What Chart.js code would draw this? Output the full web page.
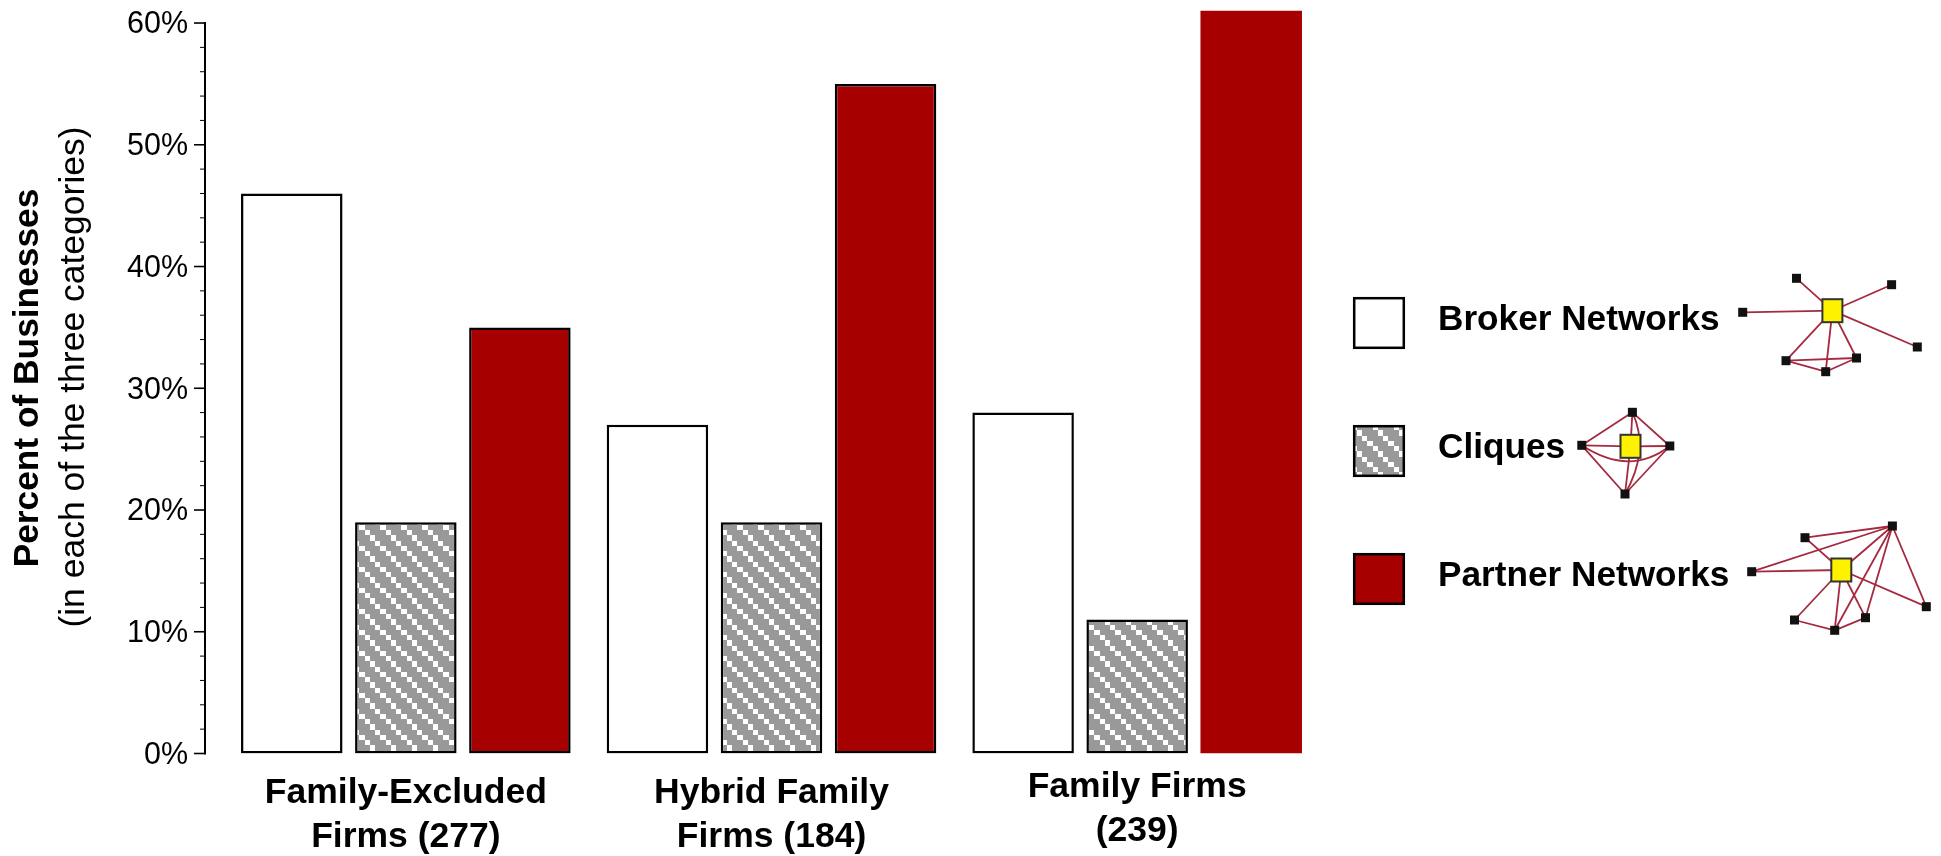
<!DOCTYPE html>
<html><head><meta charset="utf-8">
<style>html,body{margin:0;padding:0;background:#fff}#w{width:1941px;height:856px}</style>
<script src="https://cdn.jsdelivr.net/npm/chart.js@4"></script></head>
<body><div id="w"><canvas id="c" width="1941" height="856"></canvas></div>
<script>
const categories = [['Family-Excluded','Firms (277)'],['Hybrid Family','Firms (184)'],['Family Firms','(239)']];
const seriesNames = ['Broker Networks','Cliques','Partner Networks'];
const brokerValues = [46,27,28];
const cliqueValues = [19,19,11];
const partnerValues = [35,55,61];
const yTitleBold = 'Percent of Businesses';
const yTitleRegular = '(in each of the three categories)';

const FONT = '"Liberation Sans", Arial, sans-serif';
function makePattern(){
  const t=document.createElement('canvas');t.width=21;t.height=21;
  const g=t.getContext('2d');
  g.fillStyle='#999999';g.fillRect(0,0,21,21);
  g.fillStyle='#ffffff';
  // one diagonal stair of four steps per 21px tile
  g.fillRect(2,0,6,5);g.fillRect(8,5,5,5);g.fillRect(13,10,5,6);g.fillRect(18,16,3,5);g.fillRect(0,16,2,5);
  return g.createPattern(t,'repeat');
}
const pattern=makePattern();
const RED='#a60000';

// network glyphs next to the legend (decoration, in page pixels)
const nets=[
 {hub:[1832.4,310.7],nodes:[[1796.5,278.3],[1891.6,284.7],[1742.7,312.3],[1917.3,347],[1786,360.7],[1825.7,371.7],[1856.5,358]],
  links:[[4,6],[4,5],[5,6]],curves:[]},
 {hub:[1630.5,446.3],nodes:[[1632.4,412.3],[1581.8,445.3],[1669.8,446],[1625,494]],
  links:[[0,1],[0,2],[1,3],[2,3]],curves:[[1,2,1630,477],[0,3,1650,450]]},
 {hub:[1841.3,570],nodes:[[1892.4,526],[1805,537.7],[1751.7,571.7],[1926.3,606.7],[1794.5,620],[1834.7,630.3],[1865.5,617.7]],
  links:[[0,1],[0,2],[0,3],[0,5],[0,6],[4,5],[5,6]],curves:[]}
];

const overlay={
 id:'overlay',
 beforeDraw(chart){
  const items=chart.scales.x.getLabelItems();
  if(items[2] && !items[2]._moved){items[2].options.translation[1]-=6;items[2]._moved=true;}
  chart.scales.y.getLabelItems().forEach(it=>{
    if(!it._moved){it.options.translation[1]+=2;it._moved=true;}
  });
 },
 afterDraw(chart){
  const ctx=chart.ctx, y=chart.scales.y;
  ctx.save();
  // y axis line and ticks
  const ax=205;
  ctx.strokeStyle='#000';
  const top=y.getPixelForValue(60), bot=y.getPixelForValue(0);
  ctx.lineWidth=2;ctx.beginPath();ctx.moveTo(ax,top-1);ctx.lineTo(ax,bot+1);ctx.stroke();
  y.ticks.forEach(t=>{
    const p=y.getPixelForValue(t.value), major=t.value%10===0;
    ctx.lineWidth=major?1.6:1;
    ctx.beginPath();ctx.moveTo(ax,p);ctx.lineTo(ax-(major?11:5),p);ctx.stroke();
  });
  // y titles
  ctx.fillStyle='#000';ctx.textAlign='center';ctx.textBaseline='middle';
  ctx.save();ctx.translate(28,378);ctx.rotate(-Math.PI/2);
  ctx.font='bold 35.3px '+FONT;ctx.fillText(yTitleBold,0,0);ctx.restore();
  ctx.save();ctx.translate(74,377);ctx.rotate(-Math.PI/2);
  ctx.font='35.5px '+FONT;ctx.fillText(yTitleRegular,0,0);ctx.restore();
  // legend
  const rows=[297,425,553];
  ctx.textAlign='left';ctx.textBaseline='alphabetic';
  chart.data.datasets.forEach((d,i)=>{
    ctx.fillStyle=d.legendFill;ctx.fillRect(1353,rows[i],52,52);
    ctx.strokeStyle='#000';ctx.lineWidth=2.5;ctx.strokeRect(1354.2,rows[i]+1.2,49.6,49.6);
    ctx.fillStyle='#000';ctx.font='bold 35.2px '+FONT;
    ctx.fillText(d.label,1438,rows[i]+33);
  });
  // networks
  nets.forEach(n=>{
    ctx.strokeStyle='#a52a3f';ctx.lineWidth=1.8;
    n.nodes.forEach(p=>{ctx.beginPath();ctx.moveTo(n.hub[0],n.hub[1]);ctx.lineTo(p[0],p[1]);ctx.stroke();});
    n.links.forEach(l=>{ctx.beginPath();ctx.moveTo(...n.nodes[l[0]]);ctx.lineTo(...n.nodes[l[1]]);ctx.stroke();});
    n.curves.forEach(c=>{ctx.beginPath();ctx.moveTo(...n.nodes[c[0]]);ctx.quadraticCurveTo(c[2],c[3],...n.nodes[c[1]]);ctx.stroke();});
    ctx.fillStyle='#111';
    n.nodes.forEach(p=>ctx.fillRect(p[0]-4.5,p[1]-4.5,9,9));
    ctx.fillStyle='#fff200';ctx.fillRect(n.hub[0]-10,n.hub[1]-11.5,20,23);
    ctx.strokeStyle='#333';ctx.lineWidth=2;ctx.strokeRect(n.hub[0]-10,n.hub[1]-11.5,20,23);
  });
  ctx.restore();
 }
};

new Chart(document.getElementById('c'),{
 type:'bar',
 data:{labels:categories,datasets:[
  {label:seriesNames[0],data:brokerValues,backgroundColor:'#ffffff',legendFill:'#ffffff',borderColor:'#000',borderWidth:2.5,borderSkipped:false},
  {label:seriesNames[1],data:cliqueValues,backgroundColor:pattern,legendFill:pattern,borderColor:'#000',borderWidth:2.5,borderSkipped:false},
  {label:seriesNames[2],data:partnerValues,backgroundColor:RED,legendFill:RED,borderColor:'#000',borderWidth:[2.5,2.5,0],borderSkipped:false}
 ]},
 options:{
  responsive:false,animation:false,
  layout:{padding:{top:10,left:0,right:621,bottom:0}},
  datasets:{bar:{categoryPercentage:0.9357,barPercentage:0.89}},
  plugins:{legend:{display:false},tooltip:{enabled:false},title:{display:false}},
  scales:{
   x:{grid:{display:false},border:{display:false},
      afterFit(s){s.height=102.5;s.paddingLeft=0;s.paddingRight=0;},
      ticks:{color:'#000',maxRotation:0,padding:9.5,font:{family:FONT,size:35.5,weight:'bold',lineHeight:1.24}}},
   y:{min:0,max:61.07,grid:{display:false,drawTicks:false},border:{display:false},
      afterFit(s){s.width=223;s.paddingTop=0;s.paddingBottom=0;},
      ticks:{stepSize:2,autoSkip:false,includeBounds:false,color:'#000',padding:35,
        font:{family:FONT,size:30.5},callback:v=>v%10===0?v+'%':''}}
  }
 },
 plugins:[overlay]
});
</script></body></html>
